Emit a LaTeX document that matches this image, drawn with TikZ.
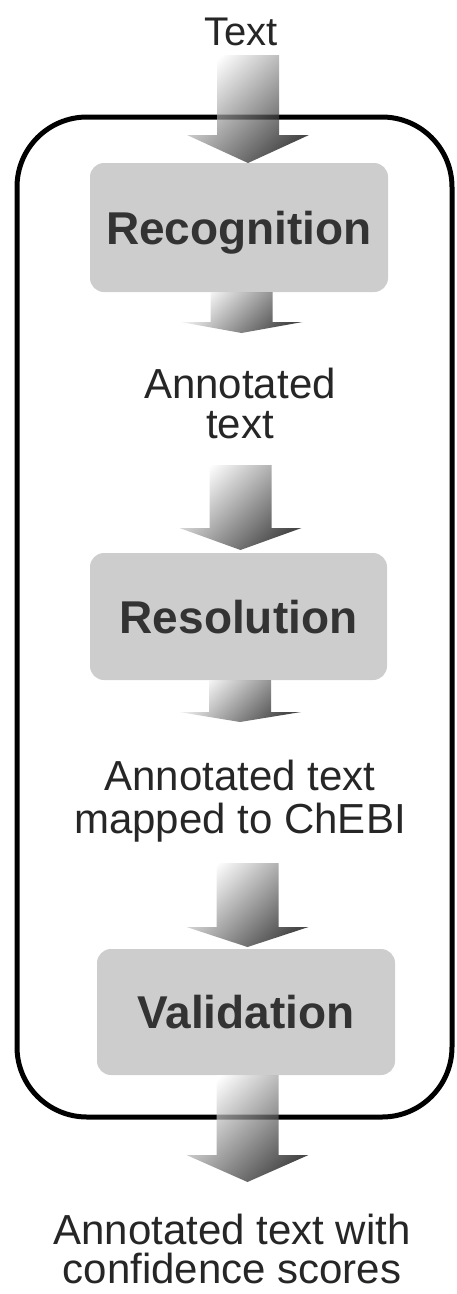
\documentclass[tikz,border=0pt]{standalone}
\usepackage{fontspec}
\setmainfont{Liberation Sans}

\definecolor{boxgray}{HTML}{CDCDCD}
\definecolor{inktext}{HTML}{262626}
\definecolor{inkbold}{HTML}{333333}

\tikzset{
  frame/.style={draw=black, line width=5pt, rounded corners=70pt, inner sep=0pt},
  stage/.style={fill=boxgray, rounded corners=14pt, inner sep=0pt,
    text=inkbold, font=\fontsize{46}{50}\selectfont\bfseries,
    text height=33pt, text depth=0pt},
  % anchored at the baseline of the last line
  flowlabel/.style={text=inktext, font=\fontsize{42}{40}\selectfont,
    align=center, anchor=base, inner sep=0pt},
  arrowfill/.style={top color=white, bottom color=black, shading angle=45,
    opacity=0.72},
}

% block arrow: #1 name, #2 x of axis, #3 top of shaft, #4 base of head, #5 tip
\newcommand\blockarrow[5]{%
  \shade[arrowfill] (#2-31,#3) coordinate (#1)
    -- (#2+31,#3) -- (#2+31,#4) -- (#2+61,#4) -- (#2,#5)
    -- (#2-61,#4) -- (#2-31,#4) -- cycle;}

\begin{document}
\begin{tikzpicture}[x=1pt, y=-1pt]
  \useasboundingbox (0,0) rectangle (457,1294);

  % enclosing pipeline frame
  \node[frame, minimum width=435pt, minimum height=1000pt] (pipeline) at (234.5,617) {};

  % input
  \node[flowlabel, font=\fontsize{40}{40}\selectfont] (input) at (241,45) {Text};

  % processing stages
  \node[stage, minimum width=298pt, minimum height=129pt] (recognition) at (239,227.5) {Recognition};
  \node[stage, minimum width=297pt, minimum height=127pt] (resolution) at (238.5,616.5) {Resolution};
  \node[stage, minimum width=298pt, minimum height=126pt] (validation) at (246,1012) {Validation};

  % intermediate and final results
  \node[flowlabel] (annotated) at (240,438) {Annotated\\text};
  \node[flowlabel, font=\fontsize{42}{43}\selectfont] (mapped) at (240,833) {Annotated text\\mapped to ChEBI};
  \node[flowlabel, font=\fontsize{42}{39}\selectfont] (scored) at (232,1283) {Annotated text with\\confidence scores};

  % flow arrows
  \blockarrow{a1}{248}{55}{135}{163}
  \blockarrow{a2}{241.5}{292}{322}{333}
  \blockarrow{a3}{240.5}{465}{528}{550}
  \blockarrow{a4}{240}{680}{712}{722}
  \blockarrow{a5}{247.5}{863}{927}{947}
  \blockarrow{a6}{247.5}{1075}{1155}{1182}
\end{tikzpicture}
\end{document}
